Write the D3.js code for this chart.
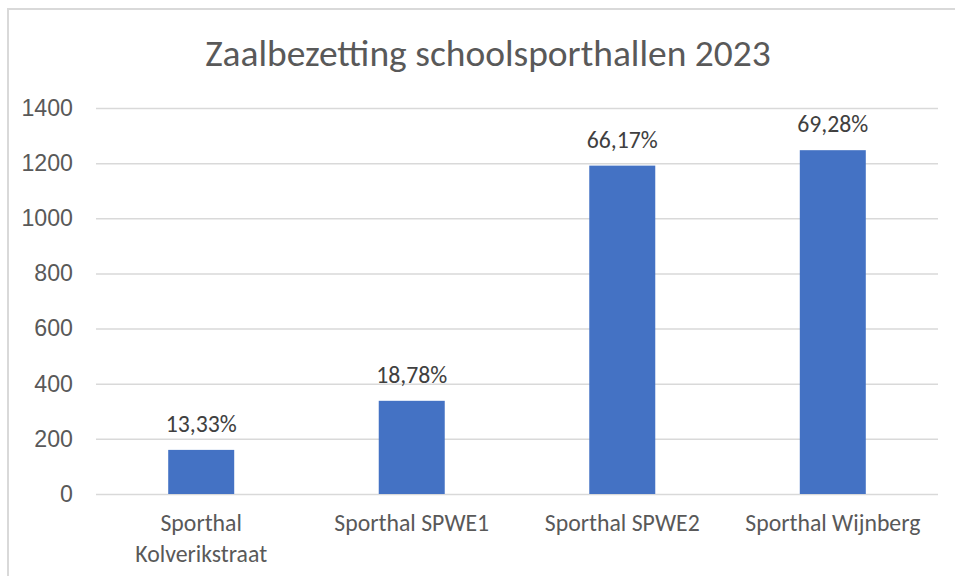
<!DOCTYPE html>
<html>
<head>
<meta charset="utf-8">
<script src="https://cdn.jsdelivr.net/npm/d3@7"></script>
<style>
  html, body { margin: 0; padding: 0; background: #fff; }
  svg { display: block; font-family: Carlito, Lato, "Open Sans", sans-serif; }
</style>
</head>
<body>
<svg id="chart" width="955" height="576"></svg>
<script>
// Zaalbezetting schoolsporthallen 2023 — gebruikte uren per hal, label = bezettingsgraad
const categories = ["Sporthal Kolverikstraat", "Sporthal SPWE1", "Sporthal SPWE2", "Sporthal Wijnberg"];
const categoryLines = [["Sporthal", "Kolverikstraat"], ["Sporthal SPWE1"], ["Sporthal SPWE2"], ["Sporthal Wijnberg"]];
const hours = [160, 338, 1191, 1247];
const occupancy = ["13,33%", "18,78%", "66,17%", "69,28%"];
const yTicks = [0, 200, 400, 600, 800, 1000, 1200, 1400];
const title = "Zaalbezetting schoolsporthallen 2023";

const svg = d3.select("#chart");
const margin = { left: 96, right: 17, top: 108, bottom: 82 };
const W = 955, H = 576;

// scales the width of a text class so a reference string spans the given pixel width
function fitSize(text, targetWidth) {
  const t = svg.append("text").attr("font-size", 100).text(text);
  const w = t.node().getComputedTextLength();
  t.remove();
  return 100 * targetWidth / w;
}
const titleSize = fitSize(title, 566);
const tickSize = fitSize("1400", 47);
const catSize = fitSize("Sporthal SPWE2", 155);
const labelSize = fitSize("66,17%", 71);

// chart frame
svg.append("rect")
  .attr("x", 8).attr("y", 9)
  .attr("width", W + 10).attr("height", H + 10)
  .attr("fill", "none").attr("stroke", "#d9d9d9").attr("stroke-width", 2);

const x = d3.scaleBand()
  .domain(categories)
  .range([margin.left, W - margin.right])
  .paddingInner(0.6865)
  .paddingOuter(0.343);

const y = d3.scaleLinear()
  .domain([0, 1400])
  .range([H - margin.bottom, margin.top]);

// gridlines + tick labels
const yAxis = d3.axisLeft(y)
  .tickValues(yTicks)
  .tickSize(-(W - margin.right - margin.left))
  .tickPadding(23)
  .tickFormat(d3.format("d"));

const gy = svg.append("g")
  .attr("transform", `translate(${margin.left},0)`)
  .call(yAxis);
gy.select(".domain").remove();
gy.selectAll(".tick line").attr("stroke", "#d9d9d9").attr("stroke-width", 1.5);
gy.selectAll(".tick text")
  .attr("fill", "#595959")
  .attr("font-size", tickSize)
  .attr("font-family", "inherit");

// bars
svg.append("g").selectAll("rect")
  .data(hours)
  .join("rect")
  .attr("x", (d, i) => x(categories[i]))
  .attr("y", d => y(d))
  .attr("width", x.bandwidth())
  .attr("height", d => y(0) - y(d))
  .attr("fill", "#4472c4");

// data labels
svg.append("g").selectAll("text")
  .data(hours)
  .join("text")
  .attr("x", (d, i) => x(categories[i]) + x.bandwidth() / 2)
  .attr("y", d => y(d) - 18)
  .attr("text-anchor", "middle")
  .attr("fill", "#404040")
  .attr("font-size", labelSize)
  .text((d, i) => occupancy[i]);

// category labels
const cats = svg.append("g").selectAll("text")
  .data(categories)
  .join("text")
  .attr("x", d => x(d) + x.bandwidth() / 2)
  .attr("y", 531)
  .attr("text-anchor", "middle")
  .attr("fill", "#595959")
  .attr("font-size", catSize);
cats.selectAll("tspan")
  .data((d, i) => categoryLines[i])
  .join("tspan")
  .attr("x", function () { return d3.select(this.parentNode).attr("x"); })
  .attr("dy", (d, i) => i === 0 ? 0 : 31)
  .text(d => d);

// title
svg.append("text")
  .attr("x", 488)
  .attr("y", 66)
  .attr("text-anchor", "middle")
  .attr("fill", "#595959")
  .attr("font-size", titleSize)
  .text(title);
</script>
</body>
</html>
